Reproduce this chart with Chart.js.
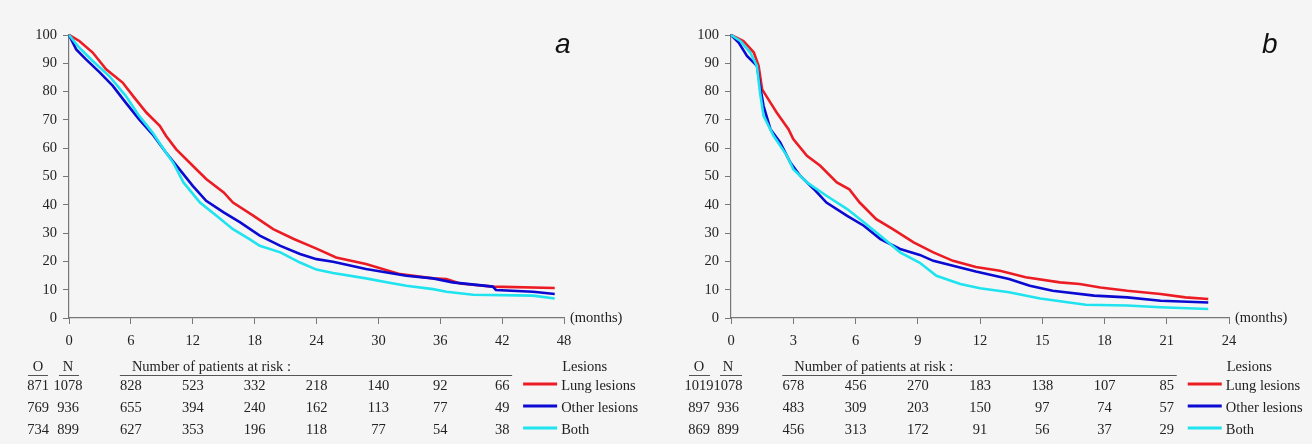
<!DOCTYPE html>
<html>
<head>
<meta charset="utf-8">
<script src="https://cdn.jsdelivr.net/npm/chart.js@4/dist/chart.umd.min.js"></script>
<style>
  html, body { margin: 0; padding: 0; background: #f5f5f5; }
  #wrap { position: relative; width: 1312px; height: 444px; overflow: hidden; }
  canvas { position: absolute; top: 0; }
</style>
</head>
<body>
<div id="wrap">
  <canvas id="chartA" width="656" height="444" style="left:0px"></canvas>
  <canvas id="chartB" width="656" height="444" style="left:656px"></canvas>
</div>
<script>
// ---------------- DATA ----------------
const seriesNames = ['Lung lesions', 'Other lesions', 'Both'];

// Panel a (months 0-48)
const aLungX  = [0, 1.0, 2.3, 3.6, 5.2, 6.2, 7.5, 8.8, 9.4, 10.4, 12.0, 13.3, 15.0, 15.9, 17.9, 19.8, 21.8, 24.0, 25.9, 28.8, 32.1, 35.3, 36.6, 37.9, 41.1, 47.1];
const aLungY  = [100, 97.9, 93.8, 87.9, 83.2, 78.5, 72.6, 67.9, 64.4, 59.6, 53.8, 49.1, 44.4, 40.8, 36.1, 31.4, 27.9, 24.5, 21.4, 19.1, 15.5, 14.0, 13.8, 12.2, 11.1, 10.6];
const aOtherX = [0, 0.7, 1.65, 3.0, 4.25, 5.5, 6.8, 8.1, 9.4, 10.7, 12.0, 13.3, 15.0, 16.6, 18.5, 20.5, 22.4, 24.0, 25.6, 28.8, 32.7, 35.3, 37.2, 41.1, 41.4, 45.0, 47.1];
const aOtherY = [100, 94.9, 91.4, 86.7, 82.0, 76.1, 70.2, 64.9, 58.5, 52.6, 46.7, 41.4, 37.3, 33.8, 29.1, 25.5, 22.6, 20.8, 19.9, 17.3, 14.9, 14.0, 12.6, 11.1, 9.9, 9.3, 8.5];
const aBothX  = [0, 1.0, 2.3, 3.9, 5.5, 6.8, 8.1, 9.4, 10.1, 11.1, 12.7, 14.3, 15.9, 17.5, 18.5, 20.5, 22.4, 24.0, 25.6, 28.8, 30.8, 32.7, 35.3, 36.6, 39.2, 45.0, 47.1];
const aBothY  = [100, 95.5, 90.8, 85.5, 78.5, 71.4, 65.5, 58.5, 54.9, 47.9, 40.8, 36.1, 31.4, 27.9, 25.5, 23.2, 19.6, 17.1, 15.9, 14.0, 12.6, 11.4, 10.2, 9.3, 8.2, 7.9, 6.9];

// Panel b (months 0-24)
const bLungX  = [0, 0.6, 1.1, 1.33, 1.5, 1.9, 2.2, 2.6, 2.77, 3.0, 3.66, 4.3, 5.1, 5.7, 6.2, 7.0, 7.8, 8.8, 9.75, 10.7, 11.8, 12.96, 14.2, 15.85, 16.8, 17.8, 19.1, 20.7, 21.9, 23.0];
const bLungY  = [100, 97.9, 93.8, 89.1, 80.8, 76.1, 72.6, 68.5, 66.7, 63.2, 57.3, 53.8, 47.9, 45.5, 40.8, 34.9, 31.4, 26.7, 23.2, 20.2, 18.0, 16.7, 14.4, 12.6, 12.0, 10.8, 9.6, 8.5, 7.3, 6.7];
const bOtherX = [0, 0.37, 0.77, 1.25, 1.4, 1.57, 1.9, 2.37, 2.86, 3.34, 4.0, 4.6, 5.6, 6.4, 7.2, 8.15, 9.1, 9.75, 10.7, 11.8, 13.4, 14.4, 15.5, 17.5, 19.1, 20.7, 23.0];
const bOtherY = [100, 97.3, 92.6, 89.1, 82.0, 74.9, 66.7, 62.0, 54.9, 50.2, 45.5, 40.8, 36.1, 32.6, 27.9, 24.4, 22.3, 20.2, 18.5, 16.4, 13.8, 11.4, 9.6, 7.9, 7.3, 6.1, 5.5];
const bBothX  = [0, 0.45, 0.93, 1.25, 1.4, 1.57, 2.05, 2.7, 3.0, 3.66, 4.6, 5.6, 6.4, 7.2, 8.15, 9.1, 9.9, 11.05, 12.0, 13.4, 14.9, 16.3, 17.1, 19.1, 20.7, 23.0];
const bBothY  = [100, 97.9, 93.8, 89.1, 79.6, 71.4, 64.4, 57.3, 52.6, 47.9, 43.2, 38.5, 33.8, 29.1, 23.2, 19.5, 14.9, 12.0, 10.5, 9.1, 6.9, 5.5, 4.7, 4.4, 3.8, 3.2];

// Risk tables
const aRiskMonths = [6, 12, 18, 24, 30, 36, 42];
const aO = [871, 769, 734];
const aN = [1078, 936, 899];
const aRiskLung  = [828, 523, 332, 218, 140, 92, 66];
const aRiskOther = [655, 394, 240, 162, 113, 77, 49];
const aRiskBoth  = [627, 353, 196, 118, 77, 54, 38];

const bRiskMonths = [3, 6, 9, 12, 15, 18, 21];
const bO = [1019, 897, 869];
const bN = [1078, 936, 899];
const bRiskLung  = [678, 456, 270, 183, 138, 107, 85];
const bRiskOther = [483, 309, 203, 150, 97, 74, 57];
const bRiskBoth  = [456, 313, 172, 91, 56, 37, 29];

const yTicks = [0, 10, 20, 30, 40, 50, 60, 70, 80, 90, 100];
const aXTicks = [0, 6, 12, 18, 24, 30, 36, 42, 48];
const bXTicks = [0, 3, 6, 9, 12, 15, 18, 21, 24];

// ---------------- STYLE ----------------
const COLORS = ['#ec1c24', '#0a0ad2', '#1fe3ee'];
const SERIF = "'Liberation Serif', 'Times New Roman', serif";
const TEXT = '#222222';
const AXIS = '#777777';

function pts(xs, ys) { return xs.map((x, i) => ({ x: x, y: ys[i] })); }

const riskPlugin = {
  id: 'riskTable',
  afterDraw(chart) {
    const cfg = chart.options.plugins.riskTable;
    if (!cfg) return;
    const ctx = chart.ctx;
    const xs = chart.scales.x;
    const area = chart.chartArea;
    ctx.save();
    ctx.fillStyle = TEXT;
    ctx.font = '14.5px ' + SERIF;
    ctx.textBaseline = 'middle';

    // (months)
    ctx.textAlign = 'left';
    ctx.fillText('(months)', area.right + 6, area.bottom);

    // Panel letter
    ctx.font = 'italic 28px "Liberation Sans", Arial, sans-serif';
    ctx.textBaseline = 'alphabetic';
    ctx.fillStyle = '#111';
    ctx.fillText(cfg.letter, cfg.letterX, 53);

    // Table
    const rowsY = [386, 408, 430];
    const headY = 367;
    const lineY = 375.5;
    ctx.font = '14.5px ' + SERIF;
    ctx.fillStyle = TEXT;
    ctx.textBaseline = 'middle';
    ctx.textAlign = 'center';
    ctx.fillText('O', cfg.oX, headY);
    ctx.fillText('N', cfg.nX, headY);
    ctx.strokeStyle = '#555';
    ctx.lineWidth = 1;
    ctx.beginPath();
    ctx.moveTo(cfg.oLine[0], lineY); ctx.lineTo(cfg.oLine[1], lineY);
    ctx.moveTo(cfg.nLine[0], lineY); ctx.lineTo(cfg.nLine[1], lineY);
    const first = xs.getPixelForValue(cfg.months[0]);
    const last = xs.getPixelForValue(cfg.months[cfg.months.length - 1]);
    ctx.moveTo(first - 11, lineY); ctx.lineTo(last + 10, lineY);
    ctx.stroke();

    ctx.textAlign = 'left';
    ctx.fillText('Number of patients at risk :', first + 1, headY);
    ctx.fillText('Lesions', last + 60, headY);

    for (let r = 0; r < 3; r++) {
      const y = rowsY[r];
      ctx.textAlign = 'center';
      ctx.fillText(String(cfg.O[r]), cfg.oX, y);
      ctx.fillText(String(cfg.N[r]), cfg.nX, y);
      cfg.risk[r].forEach((v, i) => {
        ctx.fillText(String(v), xs.getPixelForValue(cfg.months[i]), y);
      });
      // legend
      ctx.strokeStyle = COLORS[r];
      ctx.lineWidth = 3;
      ctx.beginPath();
      ctx.moveTo(last + 21, y - 2);
      ctx.lineTo(last + 55, y - 2);
      ctx.stroke();
      ctx.textAlign = 'left';
      ctx.fillText(seriesNames[r], last + 59, y);
    }
    ctx.restore();
  }
};

function makeChart(id, opts) {
  const datasets = opts.series.map((s, i) => ({
    label: seriesNames[i],
    data: pts(s[0], s[1]),
    borderColor: COLORS[i],
    backgroundColor: COLORS[i],
    borderWidth: 2.6,
    pointRadius: 0,
    tension: 0,
    fill: false,
    clip: false
  }));
  return new Chart(document.getElementById(id), {
    type: 'line',
    data: { datasets: datasets.slice().reverse() },
    plugins: [riskPlugin],
    options: {
      responsive: false,
      animation: false,
      devicePixelRatio: 1,
      layout: { padding: { left: 0, right: opts.padRight, top: 35, bottom: 96 } },
      plugins: {
        legend: { display: false },
        tooltip: { enabled: false },
        riskTable: opts.table
      },
      scales: {
        x: {
          type: 'linear',
          min: 0,
          max: opts.xMax,
          afterBuildTicks: (s) => { s.ticks = opts.xTicks.map(v => ({ value: v })); },
          ticks: { font: { family: SERIF, size: 14.5 }, color: TEXT, padding: 8, maxRotation: 0, autoSkip: false },
          grid: { drawOnChartArea: false, drawTicks: true, tickLength: 6, color: AXIS, lineWidth: 1 },
          border: { display: true, color: AXIS, width: 1.2 },
          afterFit: (s) => { s.height = 30; }
        },
        y: {
          type: 'linear',
          min: 0,
          max: 100,
          afterBuildTicks: (s) => { s.ticks = yTicks.map(v => ({ value: v })); },
          ticks: { font: { family: SERIF, size: 14.5 }, color: TEXT, padding: 6, autoSkip: false },
          grid: { drawOnChartArea: false, drawTicks: true, tickLength: 6, color: AXIS, lineWidth: 1 },
          border: { display: true, color: AXIS, width: 1.2 },
          afterFit: (s) => { s.width = opts.yWidth; }
        }
      }
    }
  });
}

makeChart('chartA', {
  series: [[aLungX, aLungY], [aOtherX, aOtherY], [aBothX, aBothY]],
  xMax: 48, xTicks: aXTicks, padRight: 92, yWidth: 69,
  table: {
    letter: 'a', letterX: 555,
    months: aRiskMonths, O: aO, N: aN, risk: [aRiskLung, aRiskOther, aRiskBoth],
    oX: 38, nX: 68, oLine: [28, 48], nLine: [59, 79]
  }
});

makeChart('chartB', {
  series: [[bLungX, bLungY], [bOtherX, bOtherY], [bBothX, bBothY]],
  xMax: 24, xTicks: bXTicks, padRight: 83, yWidth: 75,
  table: {
    letter: 'b', letterX: 606,
    months: bRiskMonths, O: bO, N: bN, risk: [bRiskLung, bRiskOther, bRiskBoth],
    oX: 43, nX: 72, oLine: [33, 54], nLine: [64, 86]
  }
});
</script>
</body>
</html>
